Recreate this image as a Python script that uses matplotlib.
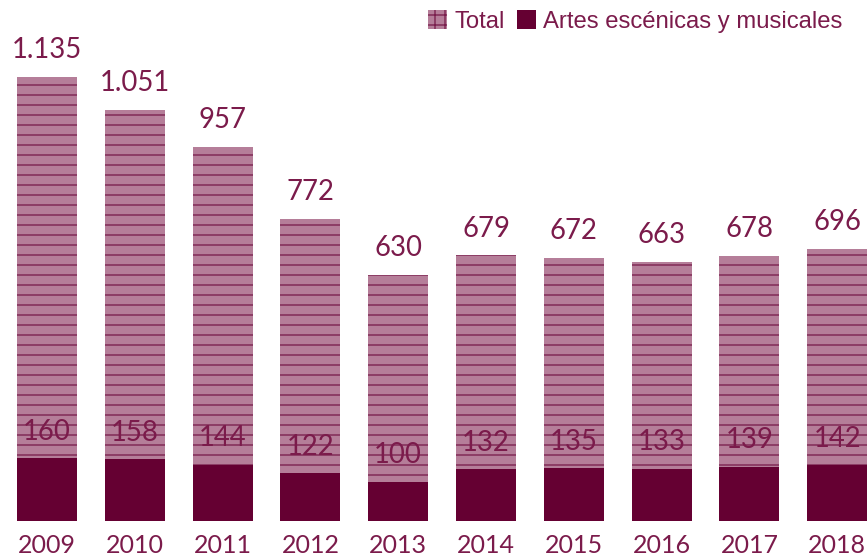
import numpy as np
import matplotlib.pyplot as plt
from matplotlib.patches import Patch

# data
years = ['2009', '2010', '2011', '2012', '2013', '2014', '2015', '2016', '2017', '2018']
total = [1135, 1051, 957, 772, 630, 679, 672, 663, 678, 696]
artes = [160, 158, 144, 122, 100, 132, 135, 133, 139, 142]

# colours
c_total = '#b57e99'
c_hatch = '#7a1f4d'
c_dark = '#650032'
c_text = '#7b1b4b'

def fmt(v):
    return f'{v:,}'.replace(',', '.')

plt.rcParams['hatch.color'] = c_hatch
plt.rcParams['hatch.linewidth'] = 0.8

dpi = 120
fig = plt.figure(figsize=(868 / dpi, 558 / dpi), dpi=dpi)
ax = fig.add_axes([0, 37 / 558, 1, 521 / 558])

x = np.arange(len(years))
w = 0.683
ax.bar(x, total, w, color=c_total, hatch='--', edgecolor=c_hatch, linewidth=0)
ax.bar(x, artes, w, color=c_dark, linewidth=0)

lbl = dict(ha='center', va='center', fontsize=16.5, color=c_text, family='Lato')
for xi, t, a in zip(x, total, artes):
    ax.annotate(fmt(t), (xi, t), xytext=(0, 16), textcoords='offset points', **lbl)
    ax.annotate(fmt(a), (xi, a), xytext=(0, 16), textcoords='offset points', **lbl)

ax.set_xlim(-0.535, 9.35)
ax.set_ylim(0, 1332)
ax.set_xticks(x)
ax.set_xticklabels(years, fontsize=15, color=c_text, family='Lato')
ax.tick_params(axis='x', length=0, pad=8)
ax.set_yticks([])
for s in ax.spines.values():
    s.set_visible(False)

handles = [Patch(facecolor=c_total, edgecolor=c_hatch, hatch='++', linewidth=0, label='Total'),
           Patch(facecolor=c_dark, linewidth=0, label='Artes escénicas y musicales')]
leg = fig.legend(handles=handles, loc='upper right', bbox_to_anchor=(0.995, 1.02), ncol=2,
                 frameon=False, prop={'family': 'Liberation Sans', 'size': 14.3},
                 handlelength=0.8, handleheight=0.8, handletextpad=0.3, columnspacing=0.5)
for t in leg.get_texts():
    t.set_color(c_text)

plt.savefig('out.png', dpi=dpi)
